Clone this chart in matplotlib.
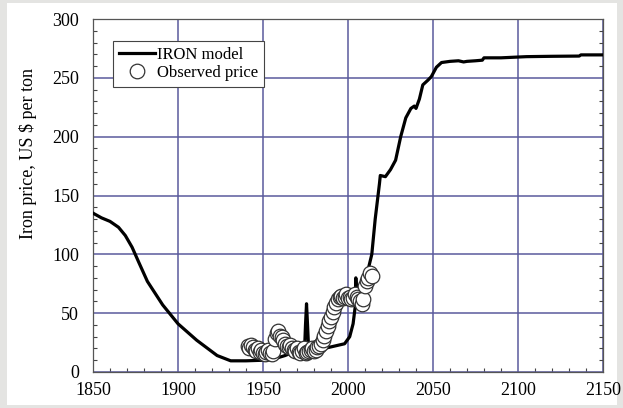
import numpy as np
import matplotlib
matplotlib.use('Agg')
import matplotlib.pyplot as plt
from matplotlib.patches import Rectangle
from matplotlib.ticker import MultipleLocator

plt.rcParams['font.family'] = ['Liberation Serif', 'DejaVu Serif']

# IRON model run, price in US $ per ton
model_year = [1850, 1855, 1860, 1865, 1869, 1873, 1877, 1882, 1891, 1900,
              1911, 1923, 1931, 1940, 1950, 1955, 1963, 1968, 1974.5, 1975,
              1975.6, 1976.2, 1976.8, 1980, 1986, 1992, 1998, 2001, 2003, 2004.2,
              2004.6, 2005.2, 2006, 2009, 2012, 2014, 2016, 2018.5, 2019, 2022,
              2025, 2028, 2031, 2034, 2037, 2039, 2040, 2042, 2044, 2047,
              2049, 2052, 2055, 2060, 2065, 2068, 2070, 2075, 2079, 2080,
              2090, 2105, 2120, 2136, 2137, 2150]
model_price = [135, 131, 128, 123, 116, 106, 93, 77, 57, 41,
               27, 14, 9.5, 9.5, 10, 10.5, 14, 17, 21, 40,
               58, 40, 21, 18, 20, 22, 24, 30, 41, 55,
               80, 62, 66, 75, 88, 100, 130, 160, 167, 166,
               172, 180, 200, 216, 224, 226, 224, 232, 244, 248,
               251, 259, 263, 264, 264.5, 263.5, 264, 264.5, 265, 267,
               267, 268, 268.3, 268.5, 269.5, 269.5]

# observed iron price
obs_year = np.arange(1941, 2015)
obs_price = [22, 20, 23, 21, 19, 18, 20, 17, 19, 16,
             15, 17, 19, 16, 15, 18, 28, 33, 35, 31,
             30, 27, 24, 22, 21, 23, 20, 19, 18, 20,
             17, 16, 18, 20, 16, 17, 18, 19, 20, 18,
             19, 21, 22, 24, 27, 31, 35, 39, 43, 47,
             51, 55, 59, 62, 64, 65, 63, 64, 66, 63,
             64, 62, 63, 66, 64, 62, 60, 58, 62, 73,
             77, 80, 84, 82]

fig = plt.figure(figsize=(6.23, 4.08), dpi=100, facecolor='#e4e4e2')
# white card behind the plot
fig.patches.append(Rectangle((7/623, 3/408), 610/623, 402/408,
                             transform=fig.transFigure, facecolor='white',
                             edgecolor='none', zorder=-10))
ax = fig.add_axes([93/623, 36/408, 510/623, 353/408])
ax.set_zorder(1)

ax.plot(model_year, model_price, color='black', lw=2.3, zorder=3,
        label='IRON model')
ax.plot(obs_year, obs_price, ls='none', marker='o', ms=10.5, mfc='white',
        mec='#333333', mew=0.9, zorder=4, label='Observed price')

ax.set_xlim(1850, 2150)
ax.set_ylim(0, 300)
ax.xaxis.set_major_locator(MultipleLocator(50))
ax.xaxis.set_minor_locator(MultipleLocator(10))
ax.yaxis.set_major_locator(MultipleLocator(50))
ax.yaxis.set_minor_locator(MultipleLocator(10))
ax.tick_params(which='both', direction='in', right=True, top=False,
               labelsize=13, color='#444444')
ax.tick_params(which='minor', length=3, width=0.8)
ax.tick_params(axis='x', which='major', length=0, pad=7)
ax.tick_params(axis='y', which='major', length=0, pad=10)
ax.grid(True, which='major', color='#5a5a9c', lw=1.1)
for s in ax.spines.values():
    s.set_color('#555555')
    s.set_linewidth(0.9)

ax.set_ylabel('Iron price, US $ per ton', fontsize=13)
ax.yaxis.set_label_coords(-0.11, 0.62)

leg = ax.legend(loc='upper left', bbox_to_anchor=(0.039, 0.938),
                borderaxespad=0, fontsize=12, fancybox=False, framealpha=1,
                edgecolor='#444444', handlelength=2.2, handletextpad=0.1,
                labelspacing=0.15, borderpad=0.35)
leg.get_frame().set_linewidth(0.8)

fig.savefig('out.png', dpi=100, facecolor=fig.get_facecolor())
